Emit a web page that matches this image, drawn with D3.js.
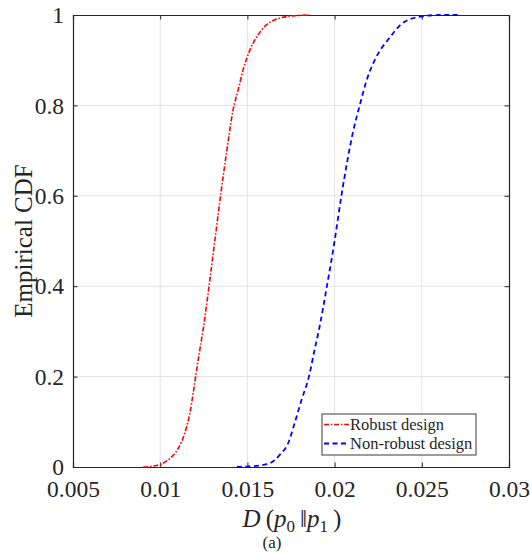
<!DOCTYPE html>
<html><head><meta charset="utf-8">
<script src="https://cdn.jsdelivr.net/npm/d3@7"></script>
<style>
html,body{margin:0;padding:0;background:#fff;}
svg{display:block;}
svg text{font-family:"Liberation Serif","Times New Roman",Times,serif;}
</style></head>
<body>
<svg id="chart" width="531" height="552"></svg>
<script>
// ---- data ----
const robustX = [0.00903, 0.0096, 0.01002, 0.01056, 0.01103, 0.01141, 0.0117, 0.01189, 0.01203, 0.01227, 0.01246, 0.0128, 0.01313, 0.01346, 0.01382, 0.01418, 0.01447, 0.01475, 0.01514, 0.01561, 0.01609, 0.01685, 0.01762, 0.01857];
const robustY = [0, 0.002, 0.006, 0.019, 0.041, 0.075, 0.119, 0.163, 0.2, 0.259, 0.303, 0.4, 0.5, 0.6, 0.70, 0.79, 0.834, 0.878, 0.922, 0.956, 0.978, 0.993, 0.998, 1.0];
const nonRobustX = [0.0144, 0.0150, 0.0158, 0.01628, 0.01686, 0.01733, 0.01771, 0.0181, 0.01853, 0.01885, 0.0191, 0.01956, 0.0200, 0.02039, 0.02105, 0.02144, 0.0219, 0.02239, 0.02316, 0.0239, 0.02487, 0.0260, 0.0272];
const nonRobustY = [0, 0.001, 0.004, 0.008, 0.027, 0.052, 0.097, 0.148, 0.2, 0.259, 0.303, 0.4, 0.5, 0.6, 0.74, 0.80, 0.863, 0.907, 0.95, 0.982, 0.996, 1.0, 1.0];
const xTicks = [0.005, 0.01, 0.015, 0.02, 0.025, 0.03];
const xTickLabels = ["0.005", "0.01", "0.015", "0.02", "0.025", "0.03"];
const yTicks = [0, 0.2, 0.4, 0.6, 0.8, 1];
const yTickLabels = ["0", "0.2", "0.4", "0.6", "0.8", "1"];
const seriesNames = ["Robust design", "Non-robust design"];
const seriesColors = ["#ff0000", "#0000ff"];

// ---- layout ----
const L = 73, R = 509, T = 15, B = 467;
const font = "Liberation Serif, Times New Roman, Times, serif";
const ink = "#262626";

const svg = d3.select("#chart");
const x = d3.scaleLinear().domain([0.005, 0.03]).range([L, R]);
const y = d3.scaleLinear().domain([0, 1]).range([B, T]);

// grid
const grid = svg.append("g");
grid.selectAll("line.gx").data(xTicks.slice(1, -1)).enter().append("line")
  .attr("x1", d => x(d)).attr("x2", d => x(d)).attr("y1", T).attr("y2", B)
  .attr("stroke", "#e3e3e3").attr("stroke-width", 1);
grid.selectAll("line.gy").data(yTicks.slice(1, -1)).enter().append("line")
  .attr("y1", d => y(d)).attr("y2", d => y(d)).attr("x1", L).attr("x2", R)
  .attr("stroke", "#e3e3e3").attr("stroke-width", 1);

// axes (inside ticks on all sides)
const tl = 4.5;
const fmtX = (d, i) => xTickLabels[i];
const fmtY = (d, i) => yTickLabels[i];
const axB = svg.append("g").attr("transform", `translate(0,${B})`)
  .call(d3.axisBottom(x).tickValues(xTicks).tickSize(-tl).tickPadding(10).tickFormat(fmtX));
const axT = svg.append("g").attr("transform", `translate(0,${T})`)
  .call(d3.axisTop(x).tickValues(xTicks).tickSize(-tl).tickFormat(""));
const axL = svg.append("g").attr("transform", `translate(${L},0)`)
  .call(d3.axisLeft(y).tickValues(yTicks).tickSize(-tl).tickPadding(9).tickFormat(fmtY));
const axR = svg.append("g").attr("transform", `translate(${R},0)`)
  .call(d3.axisRight(y).tickValues(yTicks).tickSize(-tl).tickFormat(""));
[axB, axT, axL, axR].forEach(a => {
  a.attr("font-family", font).attr("font-size", 23.5);
  a.selectAll("path.domain").attr("stroke", ink).attr("stroke-width", 1.2);
  a.selectAll(".tick line").attr("stroke", ink).attr("stroke-width", 1);
  a.selectAll("text").attr("fill", ink);
});
axB.selectAll("text").attr("dy", null).attr("y", 0).attr("transform", "translate(0,29.5)");
axL.selectAll("text").attr("dy", "0.33em");

// series
const line = d3.line().x(d => x(d[0])).y(d => y(d[1])).curve(d3.curveMonotoneX);
const robust = robustX.map((v, i) => [v, robustY[i]]);
const nonRobust = nonRobustX.map((v, i) => [v, nonRobustY[i]]);
svg.append("path").datum(nonRobust).attr("d", line)
  .attr("fill", "none").attr("stroke", seriesColors[1]).attr("stroke-width", 1.8)
  .attr("stroke-dasharray", "5,3.5");
svg.append("path").datum(robust).attr("d", line)
  .attr("fill", "none").attr("stroke", seriesColors[0]).attr("stroke-width", 1.6)
  .attr("stroke-dasharray", "5,1.8,1.5,1.8");

// legend
const lg = svg.append("g");
lg.append("rect").attr("x", 322).attr("y", 414).attr("width", 154).attr("height", 41)
  .attr("fill", "#fff").attr("stroke", "#3a3a3a").attr("stroke-width", 1);
const dashes = ["5,1.8,1.5,1.8", "5,3.5"];
const widths = [1.6, 1.8];
seriesNames.forEach((name, i) => {
  const yy = 424.5 + i * 19;
  lg.append("line").attr("x1", 324).attr("x2", 349).attr("y1", yy).attr("y2", yy)
    .attr("stroke", seriesColors[i]).attr("stroke-width", widths[i]).attr("stroke-dasharray", dashes[i]);
  lg.append("text").attr("x", 350).attr("y", yy).attr("dy", "0.33em")
    .attr("font-family", font).attr("font-size", 16.5).attr("fill", ink).text(name);
});

// axis labels
svg.append("text").attr("transform", "translate(31.5,241) rotate(-90)")
  .attr("text-anchor", "middle").attr("font-family", font).attr("font-size", 25)
  .attr("fill", ink).text("Empirical CDF");

const xl = svg.append("text").attr("x", 292).attr("y", 527).attr("text-anchor", "middle")
  .attr("font-family", font).attr("font-size", 25).attr("fill", ink);
xl.append("tspan").attr("font-style", "italic").text("D");
xl.append("tspan").text("\u2009(");
xl.append("tspan").attr("font-style", "italic").text("p");
xl.append("tspan").attr("dy", 5).attr("font-size", 17).text("0");
xl.append("tspan").attr("dy", -5).text("\u2009\u2016");
xl.append("tspan").attr("font-style", "italic").text("p");
xl.append("tspan").attr("dy", 5).attr("font-size", 17).text("1");
xl.append("tspan").attr("dy", -5).text("\u2009)");

svg.append("text").attr("x", 272).attr("y", 548).attr("text-anchor", "middle")
  .attr("font-family", font).attr("font-size", 17).attr("fill", ink).text("(a)");
</script>
</body></html>
